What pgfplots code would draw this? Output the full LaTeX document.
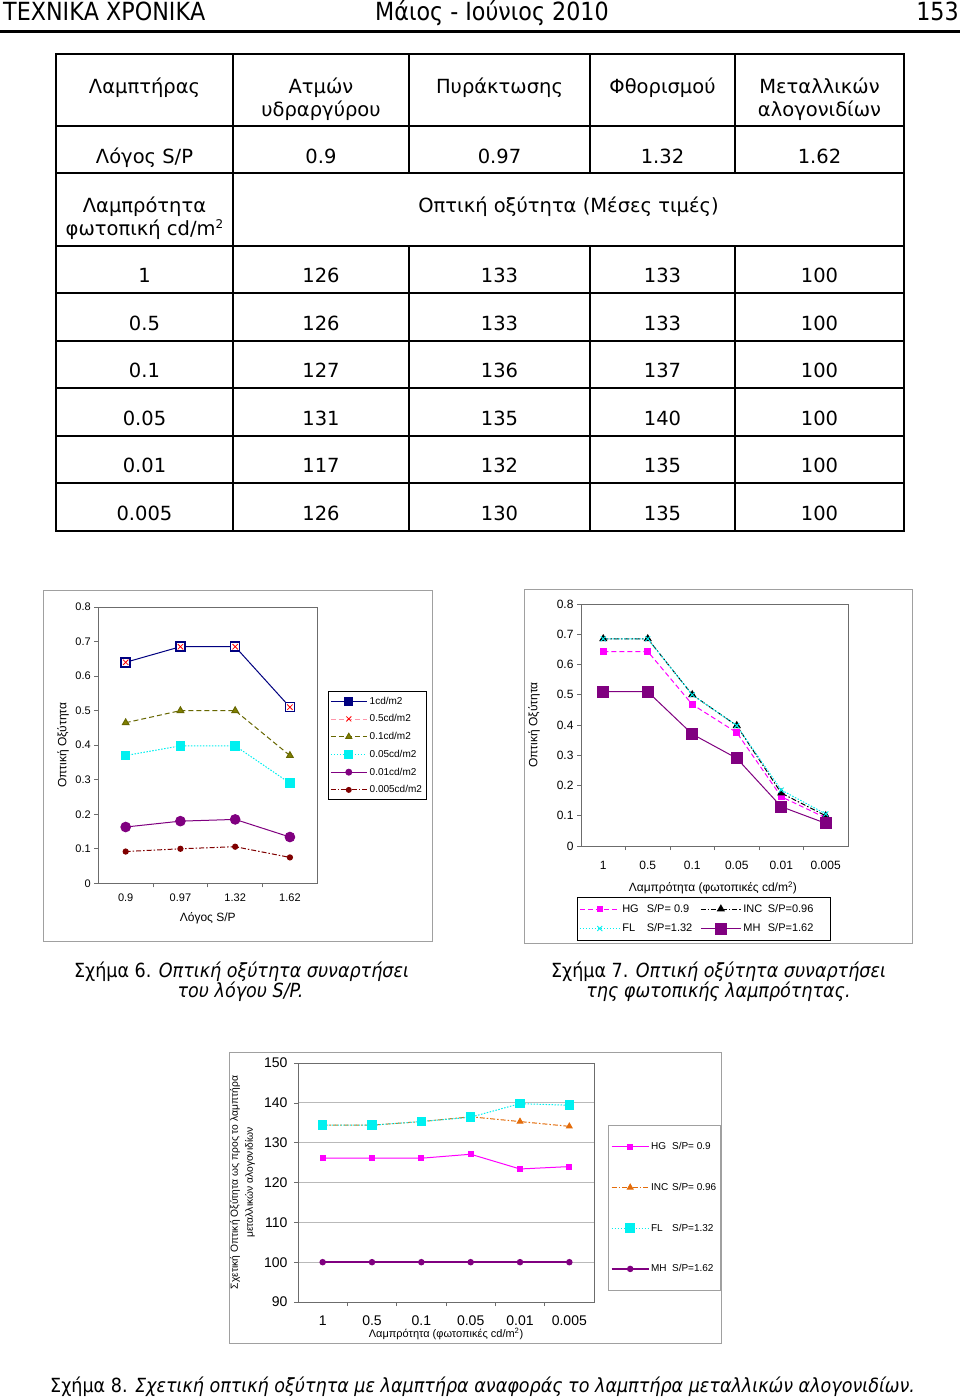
\documentclass[border=0pt]{standalone}
\usepackage{pgfplots}
\pgfplotsset{compat=1.18}
\usepackage{fontspec}
\setmainfont{Liberation Sans}
\newfontfamily\verd{DejaVu Sans}
\newfontfamily\tah[FakeStretch=0.89]{DejaVu Sans}
\newfontfamily\tahc[FakeStretch=0.9]{DejaVu Sans}
\newcommand\fs[1]{\fontsize{#1}{#1}\selectfont}
\definecolor{navyc}{RGB}{0,0,128}
\definecolor{pinkl}{RGB}{255,150,170}
\definecolor{olivec}{RGB}{128,128,0}
\definecolor{cyanc}{RGB}{0,240,240}
\definecolor{purplec}{RGB}{128,0,128}
\definecolor{maroonc}{RGB}{128,0,0}
\definecolor{magc}{RGB}{255,0,255}
\definecolor{orangec}{RGB}{228,108,10}
\definecolor{framec}{RGB}{160,160,160}
\pgfplotsset{
  excel/.style={
    scale only axis, clip=false,
    axis line style={draw=gray!85!black, line width=0.6pt},
    tick style={draw=gray!85!black, line width=0.6pt},
    tick align=outside, major tick length=4pt, minor tick length=4pt,
    xtick pos=bottom, ytick pos=left,
    every major x tick/.append style={draw=none},
    ticklabel style={text=black},
    legend cell align=left,
  },
  dsh/.style={dash pattern=on 5pt off 3pt},
  dtt/.style={dash pattern=on 1.5pt off 1.5pt},
  dsd/.style={dash pattern=on 5pt off 2pt on 1.5pt off 2pt},
}
\begin{document}
\begin{tikzpicture}
\begin{scope}[x=1pt,y=-1pt]
\path[use as bounding box, fill=white] (0,0) rectangle (960,1398);
% header
\node[anchor=base west, inner sep=0pt] at (3,20.7) {\tah\fs{25}ΤΕΧΝΙΚΑ ΧΡΟΝΙΚΑ};
\node[anchor=base, inner sep=0pt] at (492,20.7) {\tah\fs{25}Μάιος - Ιούνιος 2010};
\node[anchor=base east, inner sep=0pt] at (959,20.7) {\tah\fs{25}153};
\draw[line width=2.7pt] (0,31.3)--(960,31.3);
% table
\begin{scope}[line width=2pt]
\foreach \yy in {53.5,126,173,246,293,341,388,436,483,531} \draw (55,\yy)--(905,\yy);
\draw (56,53.5)--(56,531); \draw (904,53.5)--(904,531); \draw (233,53.5)--(233,531);
\foreach \xx in {409,590,735} {\draw (\xx,53.5)--(\xx,173); \draw (\xx,246)--(\xx,531);}
\end{scope}
\begin{scope}[every node/.style={anchor=base, inner sep=0pt, font=\verd\fs{19.5}}]
\node at (144.5,93.5) {Λαμπτήρας};
\node at (321,93.5) {Ατμών}; \node at (321,116) {υδραργύρου};
\node at (499.5,93.5) {Πυράκτωσης};
\node at (662.5,93.5) {Φθορισμού};
\node at (819.5,93.5) {Μεταλλικών}; \node at (819.5,116) {αλογονιδίων};
\node at (144.5,163) {Λόγος S/P};
\node at (321,163) {0.9}; \node at (499.5,163) {0.97}; \node at (662.5,163) {1.32}; \node at (819.5,163) {1.62};
\node at (144.5,212.5) {Λαμπρότητα};
\node at (144.5,235) {φωτοπική cd/m{\fs{12}\raisebox{7pt}{2}}};
\node at (568.5,212.5) {Οπτική οξύτητα (Μέσες τιμές)};
\foreach \yy/\a/\b/\c/\d/\e in {282/1/126/133/133/100, 330/0.5/126/133/133/100, 377/0.1/127/136/137/100, 425/0.05/131/135/140/100, 472/0.01/117/132/135/100, 520/0.005/126/130/135/100}
{\node at (144.5,\yy) {\a}; \node at (321,\yy) {\b}; \node at (499.5,\yy) {\c}; \node at (662.5,\yy) {\d}; \node at (819.5,\yy) {\e};}
\end{scope}
% chart frames
\draw[framec, line width=1pt] (43,590) rectangle (432,941);
\draw[framec, line width=1pt] (524,589) rectangle (912,943);
\draw[framec, line width=1pt] (229,1052) rectangle (721,1343);
% captions
\begin{scope}[every node/.style={inner sep=0pt, font=\tahc\fs{19.5}}]
\node[anchor=base] at (241.5,977) {Σχήμα 6. \textit{Οπτική οξύτητα συναρτήσει}};
\node[anchor=base] at (240.5,997) {\textit{του λόγου S/P.}};
\node[anchor=base] at (718.5,977) {Σχήμα 7. \textit{Οπτική οξύτητα συναρτήσει}};
\node[anchor=base] at (718.5,997) {\textit{της φωτοπικής λαμπρότητας.}};
\node[anchor=base west] at (50,1392) {Σχήμα 8. \textit{Σχετική οπτική οξύτητα με λαμπτήρα αναφοράς το λαμπτήρα μεταλλικών αλογονιδίων.}};
\end{scope}
\end{scope}

% ---------- Chart 6 ----------
\begin{axis}[excel, at={(98.3pt,-883.3pt)}, anchor=south west, width=219pt, height=276.3pt,
  xmin=-0.5, xmax=3.5, ymin=0, ymax=0.8,
  xtick={0,1,2,3}, xticklabels={0.9,0.97,1.32,1.62}, minor xtick={0.5,1.5,2.5},
  ytick={0,0.1,0.2,0.3,0.4,0.5,0.6,0.7,0.8}, yticklabels={0,0.1,0.2,0.3,0.4,0.5,0.6,0.7,0.8},
  ticklabel style={font=\fs{11}},
  xticklabel style={yshift=-3pt},
  xlabel={Λόγος S/P}, ylabel={Οπτική Οξύτητα},
  label style={font=\fs{12}},
  xlabel style={at={(axis description cs:0.5,-0.1256)}, anchor=center},
  ylabel style={at={(axis description cs:-0.161,0.5)}, anchor=center},
  legend image code/.code={\draw[mark repeat=2,mark phase=2] plot coordinates {(0pt,0pt)(18pt,0pt)(36pt,0pt)};},
  legend style={at={(1.049,0.696)}, anchor=north west, draw=black, line width=0.6pt,
    font=\fs{10}, row sep=6pt, inner xsep=2pt, inner ysep=4pt, nodes={inner xsep=2.5pt, inner ysep=1.5pt}},
]
\addplot[forget plot, navyc, line width=1pt, mark=square*, mark size=4.5pt, mark options={fill=white, draw=navyc, line width=1.5pt}] coordinates {(0,0.64)(1,0.685)(2,0.685)(3,0.51)};
\addplot[forget plot, only marks, mark=x, mark size=3.8pt, mark options={draw=red, line width=0.8pt}] coordinates {(0,0.64)(1,0.685)(2,0.685)(3,0.51)};
\addplot[forget plot, olivec!80!black, line width=1pt, dsh, mark=triangle*, mark size=3.8pt, mark options={solid, fill=olivec}] coordinates {(0,0.465)(1,0.5)(2,0.5)(3,0.37)};
\addplot[forget plot, cyanc, line width=1pt, dtt, mark=square*, mark size=4.2pt, mark options={solid, fill=cyanc}] coordinates {(0,0.37)(1,0.398)(2,0.398)(3,0.29)};
\addplot[forget plot, purplec, line width=1pt, mark=*, mark size=4.8pt, mark options={solid, fill=purplec}] coordinates {(0,0.163)(1,0.18)(2,0.185)(3,0.134)};
\addplot[forget plot, maroonc, line width=1pt, dsd, mark=*, mark size=2.6pt, mark options={solid, fill=maroonc}] coordinates {(0,0.092)(1,0.1)(2,0.106)(3,0.075)};
\addlegendimage{navyc, line width=0.9pt, mark=square*, mark size=4pt, mark options={fill=navyc}}
\addlegendentry{1cd/m2}
\addlegendimage{pinkl, line width=0.8pt, dsh, mark=x, mark size=3.5pt, mark options={solid, draw=red}}
\addlegendentry{0.5cd/m2}
\addlegendimage{olivec!80!black, line width=0.9pt, dsh, mark=triangle*, mark size=3.5pt, mark options={solid, fill=olivec}}
\addlegendentry{0.1cd/m2}
\addlegendimage{cyanc, line width=0.9pt, dtt, mark=square*, mark size=4pt, mark options={solid, fill=cyanc}}
\addlegendentry{0.05cd/m2}
\addlegendimage{purplec, line width=0.9pt, mark=*, mark size=3pt, mark options={solid, fill=purplec}}
\addlegendentry{0.01cd/m2}
\addlegendimage{maroonc, line width=0.9pt, dsd, mark=*, mark size=2.5pt, mark options={solid, fill=maroonc}}
\addlegendentry{0.005cd/m2}
\end{axis}

% ---------- Chart 7 ----------
\begin{axis}[excel, at={(581pt,-846pt)}, anchor=south west, width=267pt, height=242pt,
  xmin=-0.5, xmax=5.5, ymin=0, ymax=0.8,
  xtick={0,1,2,3,4,5}, xticklabels={1,0.5,0.1,0.05,0.01,0.005}, minor xtick={0.5,1.5,2.5,3.5,4.5},
  ytick={0,0.1,0.2,0.3,0.4,0.5,0.6,0.7,0.8}, yticklabels={0,0.1,0.2,0.3,0.4,0.5,0.6,0.7,0.8},
  ticklabel style={font=\fs{12}},
  xticklabel style={yshift=-8pt},
  xlabel={Λαμπρότητα (φωτοπικές cd/m\textsuperscript{2})}, ylabel={Οπτική Οξύτητα},
  label style={font=\fs{12}},
  xlabel style={at={(axis description cs:0.494,-0.1736)}, anchor=center},
  ylabel style={at={(axis description cs:-0.176,0.5)}, anchor=center},
  legend image code/.code={\draw[mark repeat=2,mark phase=2] plot coordinates {(0pt,0pt)(20pt,0pt)(40pt,0pt)};},
  legend columns=2,
  legend style={at={(-0.015,-0.2107)}, anchor=north west, draw=black, line width=0.6pt,
    font=\fs{11}, row sep=7pt, inner xsep=2pt, inner ysep=5.5pt, nodes={inner xsep=2pt, inner ysep=1.5pt},
    /tikz/every even column/.append style={column sep=6pt}},
]
\addplot[magc, line width=1pt, dsh, mark=square*, mark size=2.8pt, mark options={solid, fill=magc}] coordinates {(0,0.643)(1,0.643)(2,0.468)(3,0.375)(4,0.163)(5,0.093)};
\addlegendentry{\makebox[24.5pt][l]{HG}S/P= 0.9}
\addplot[black, line width=1pt, dsd, mark=triangle*, mark size=3.8pt, mark options={solid, fill=black}] coordinates {(0,0.685)(1,0.685)(2,0.5)(3,0.398)(4,0.175)(5,0.1)};
\addlegendentry{\makebox[24.5pt][l]{INC}S/P=0.96\rule{13pt}{0pt}}
\addplot[cyanc, line width=1pt, dtt, mark=x, mark size=3.5pt, mark options={solid, line width=0.9pt}] coordinates {(0,0.685)(1,0.685)(2,0.5)(3,0.398)(4,0.185)(5,0.106)};
\addlegendentry{\makebox[24.5pt][l]{FL}S/P=1.32}
\addplot[purplec, line width=1pt, mark=square*, mark size=5.5pt, mark options={solid, fill=purplec}] coordinates {(0,0.51)(1,0.51)(2,0.37)(3,0.29)(4,0.13)(5,0.075)};
\addlegendentry{\makebox[24.5pt][l]{MH}S/P=1.62\rule{13pt}{0pt}}
\end{axis}

% ---------- Chart 8 ----------
\begin{axis}[excel, at={(298pt,-1302pt)}, anchor=south west, width=296pt, height=239pt,
  xmin=-0.5, xmax=5.5, ymin=90, ymax=150,
  xtick={0,1,2,3,4,5}, xticklabels={1,0.5,0.1,0.05,0.01,0.005}, minor xtick={0.5,1.5,2.5,3.5,4.5},
  ytick={90,100,110,120,130,140,150}, yticklabels={90,100,110,120,130,140,150},
  ymajorgrids, grid style={draw=gray!55, line width=0.8pt},
  ticklabel style={font=\fs{14}},
  xticklabel style={yshift=-6pt},
  yticklabel style={xshift=-3pt},
  xlabel={Λαμπρότητα (φωτοπικές cd/m\textsuperscript{2})},
  ylabel={Σχετική Οπτική Οξύτητα ως προς το λαμπτήρα\\μεταλλικών αλογονιδίων},
  xlabel style={font=\fs{11}, at={(axis description cs:0.5,-0.134)}, anchor=center},
  ylabel style={font=\fontsize{10.3}{15}\selectfont, align=center, at={(axis description cs:-0.1875,0.5)}, anchor=center},
  legend image code/.code={\draw[mark repeat=2,mark phase=2] plot coordinates {(0pt,0pt)(18.5pt,0pt)(37pt,0pt)};},
  legend style={at={(1.047,0.741)}, anchor=north west, draw=framec, line width=0.8pt,
    font=\fs{10}, row sep=28pt, inner xsep=2.5pt, inner ysep=15pt, nodes={inner xsep=1.5pt}},
]
\addplot[magc, line width=1pt, mark=square*, mark size=2.5pt, mark options={solid, fill=magc}] coordinates {(0,126.1)(1,126.1)(2,126.1)(3,127.1)(4,123.4)(5,124)};
\addlegendentry{\makebox[21pt][l]{HG}S/P= 0.9}
\addplot[orangec, line width=1pt, dsd, mark=triangle*, mark size=3.2pt, mark options={solid, fill=orangec}] coordinates {(0,134.4)(1,134.4)(2,135.3)(3,136.5)(4,135.3)(5,134.1)};
\addlegendentry{\makebox[21pt][l]{INC}S/P= 0.96}
\addplot[cyanc, line width=1pt, dtt, mark=square*, mark size=4.3pt, mark options={solid, fill=cyanc}] coordinates {(0,134.4)(1,134.4)(2,135.3)(3,136.4)(4,139.8)(5,139.4)};
\addlegendentry{\makebox[21pt][l]{FL}S/P=1.32}
\addplot[purplec, line width=1.8pt, mark=*, mark size=2.3pt, mark options={solid, fill=purplec}] coordinates {(0,100)(1,100)(2,100)(3,100)(4,100)(5,100)};
\addlegendentry{\makebox[21pt][l]{MH}S/P=1.62}
\end{axis}
\end{tikzpicture}
\end{document}
